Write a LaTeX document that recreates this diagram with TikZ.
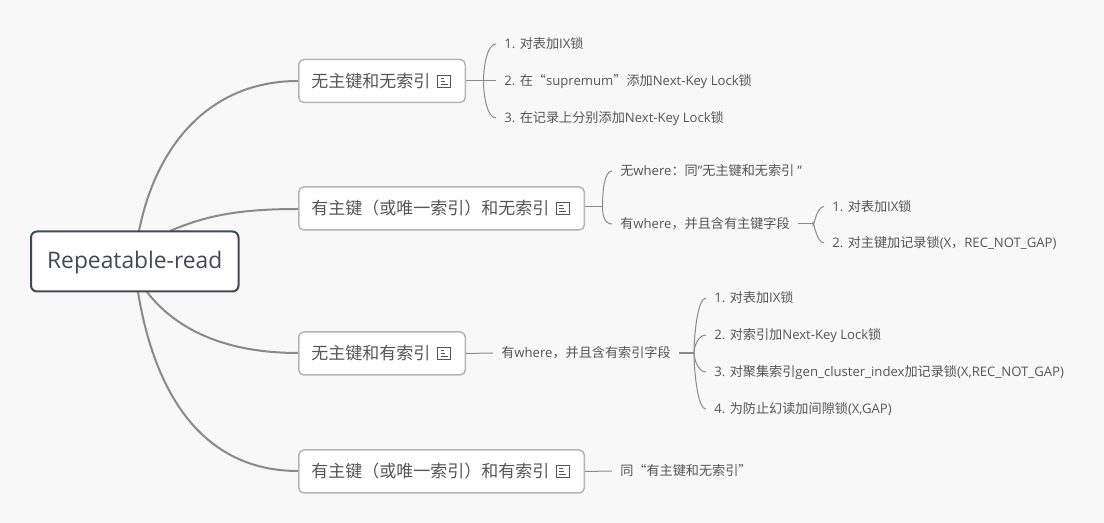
\documentclass[tikz,border=0pt]{standalone}
\usepackage{fontspec}
\setmainfont{Open Sans}
\newfontfamily\cjk{Noto Sans CJK SC}
\newcommand\C[1]{{\cjk #1}}
\def\px{0.75pt}
\tikzset{
  x=0.75pt,y=-0.75pt,
  rootbox/.style={draw=rootc,line width=2*\px,rounded corners=6*\px,fill=white,text=rootc,
    minimum width=207.5*\px,minimum height=60*\px,anchor=west,inner sep=0pt,font=\fontsize{17.1}{20}\selectfont,
    execute at begin node={\rule[-15pt]{0pt}{39.8pt}}},
  branch/.style={draw=boxc,line width=1.5*\px,rounded corners=5*\px,fill=white,text=txtc,anchor=west,
    minimum height=43*\px,inner ysep=0pt,inner xsep=12.5*\px,align=left,font=\fontsize{12.75}{15}\selectfont},
  leaf/.style={anchor=west,inner ysep=0pt,inner xsep=8*\px,text=txtc,font=\fontsize{9.85}{12}\selectfont,
    execute at begin node={\rule[-8pt]{0pt}{23.5pt}}},
  mainline/.style={draw=linec,line width=2*\px},
  subline/.style={draw=linec,line width=1*\px},
  thickline/.style={draw=linec,line width=2*\px},
  iconline/.style={draw=txtc,line width=0.9*\px},
}
\definecolor{rootc}{HTML}{3F4A56}
\definecolor{boxc}{HTML}{B5B5B5}
\definecolor{txtc}{HTML}{555555}
\definecolor{linec}{HTML}{8A8A8A}
\definecolor{bgc}{HTML}{F8F8F8}
\newcommand\noteicon[1]{%
  \draw[iconline] ($(#1)+(-6.5,-6)$) rectangle ($(#1)+(6.5,6)$);
  \draw[iconline] ($(#1)+(-3.5,-3)$) -- ($(#1)+(0,-3)$)
                  ($(#1)+(-3.5,0)$) -- ($(#1)+(1,0)$)
                  ($(#1)+(-3.5,3)$) -- ($(#1)+(3.5,3)$);
}
\usetikzlibrary{calc}
\begin{document}
\begin{tikzpicture}
\fill[bgc] (0,0) rectangle (1104,523);
\useasboundingbox (0,0) rectangle (1104,523);

% connectors from the root (drawn first, under the boxes)
\coordinate (r1) at (139,231);
\coordinate (r2) at (170,231);
\coordinate (r3) at (147,292);
\coordinate (r4) at (138,292);
\coordinate (bw1) at (298,81);
\coordinate (bw2) at (298,209);
\coordinate (bw3) at (298,353);
\coordinate (bw4) at (298,471);
\draw[mainline] (r1) .. controls +(18,-90) and +(-85,0) .. (bw1);
\draw[mainline] (r2) .. controls +(35,-15) and +(-60,0) .. (bw2);
\draw[mainline] (r3) .. controls +(35,45) and +(-60,0) .. (bw3);
\draw[mainline] (r4) .. controls +(18,110) and +(-90,0) .. (bw4);

\node[rootbox] (root) at (30,261.5) {\hbox to 155.6pt{\hfil Repeatable-read\hfil}};

\node[branch,minimum width=166.5*\px,text width=141.5*\px] (b1) at (298,81) {\C{无主键和无索引}};
\node[branch,minimum width=285.5*\px,text width=260.5*\px] (b2) at (298,208.5) {\C{有主键（或唯一索引）和无索引}};
\node[branch,minimum width=166.5*\px,text width=141.5*\px] (b3) at (298,353.5) {\C{无主键和有索引}};
\node[branch,minimum width=285.5*\px,text width=260.5*\px] (b4) at (298,471.5) {\C{有主键（或唯一索引）和有索引}};
\coordinate (i1) at (444,81);
\coordinate (i2) at (562.5,208);
\coordinate (i3) at (444,353);
\coordinate (i4) at (562.5,471);
\noteicon{i1}\noteicon{i2}\noteicon{i3}\noteicon{i4}

% first branch
\coordinate (j1) at (483.5,81);
\node[leaf] (a1) at (496,44) {1. \C{对表加}IX\C{锁}};
\node[leaf] (a2) at (496,81) {2. \C{在“}supremum\C{”添加}Next-Key Lock\C{锁}};
\node[leaf] (a3) at (496,118) {3. \C{在记录上分别添加}Next-Key Lock\C{锁}};
\draw[subline] (b1.east) -- (a2.west);
\draw[subline] (a1.west) .. controls +(-9,0) and +(0,-14) .. (j1);
\draw[subline] (a3.west) .. controls +(-9,0) and +(0,14) .. (j1);

% second branch
\coordinate (j2) at (602.5,207);
\node[leaf] (c1) at (612,171) {\C{无}where\C{：同}"\C{无主键和无索引 }"};
\node[leaf] (c2) at (612,224) {\C{有}where\C{，并且含有主键字段}};
\draw[subline] (b2.east |- j2) -- (j2);
\draw[subline] (c1.west) .. controls +(-8,0) and +(0,-14) .. (j2);
\draw[subline] (c2.west) .. controls +(-8,0) and +(0,7) .. (j2);
\coordinate (j3) at (813,224);
\node[leaf] (d1) at (824,206.5) {1. \C{对表加}IX\C{锁}};
\node[leaf] (d2) at (824,243) {2. \C{对主键加记录锁}(X\C{，}REC\_NOT\_GAP)};
\draw[subline] (c2.east) -- (j3);
\draw[subline] (d1.west) .. controls +(-8,0) and +(0,7) .. (j3);
\draw[subline] (d2.west) .. controls +(-8,0) and +(0,-7) .. (j3);

% third branch
\coordinate (j4) at (694,353);
\node[leaf] (e) at (493,353) {\C{有}where\C{，并且含有索引字段}};
\node[leaf] (f1) at (706,298) {1. \C{对表加}IX\C{锁}};
\node[leaf] (f2) at (706,335) {2. \C{对索引加}Next-Key Lock\C{锁}};
\node[leaf] (f3) at (706,372) {3. \C{对聚集索引}gen\_cluster\_index\C{加记录锁}(X,REC\_NOT\_GAP)};
\node[leaf] (f4) at (706,409) {4. \C{为防止幻读加间隙锁}(X,GAP)};
\draw[subline] (b3.east) -- (e.west);
\draw[thickline] (e.east) -- (j4);
\draw[subline] (f1.west) .. controls +(-9,0) and +(0,-14) .. (j4);
\draw[subline] (f2.west) .. controls +(-8,0) and +(0,-6) .. (j4);
\draw[subline] (f3.west) .. controls +(-8,0) and +(0,6) .. (j4);
\draw[subline] (f4.west) .. controls +(-9,0) and +(0,14) .. (j4);

% fourth branch
\node[leaf] (g) at (612,471) {\C{同“有主键和无索引”}};
\draw[subline] (b4.east) -- (g.west);
\end{tikzpicture}
\end{document}
